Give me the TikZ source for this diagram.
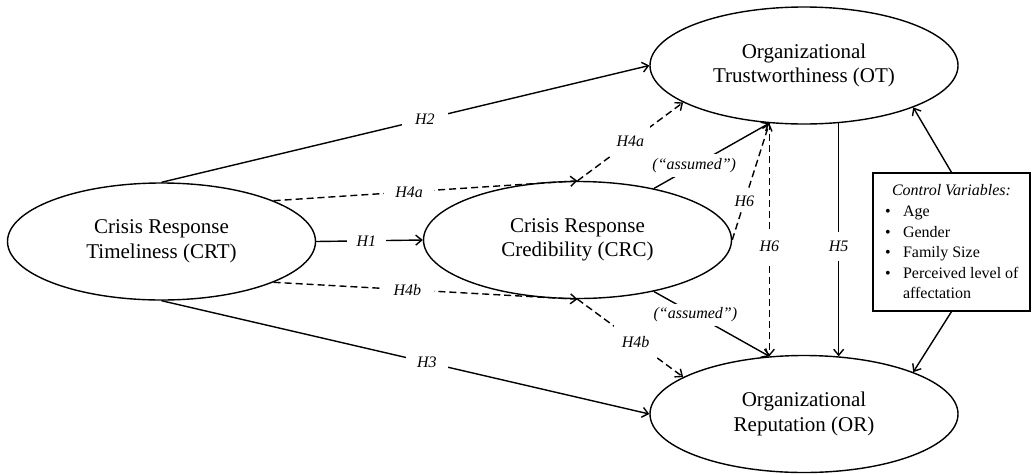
\documentclass[tikz,border=0pt]{standalone}
\usepackage{fontspec}
\setmainfont{Liberation Serif}
\usetikzlibrary{arrows.meta,shapes.geometric}
\begin{document}
\begin{tikzpicture}[x=1pt,y=-1pt,
  construct/.style={ellipse,draw,line width=1.4pt,inner sep=0pt,minimum width=308pt,minimum height=117pt,align=center,font=\fontsize{21}{24.5}\selectfont},
  conn/.style={line width=1.4pt,-{Straight Barb[length=6pt,width=10pt]}},
  dsh/.style={conn,dash pattern=on 7pt off 4pt},
  lbl/.style={fill=white,font=\fontsize{16}{18}\selectfont\itshape,inner xsep=11pt,inner ysep=2pt},
  lblv/.style={lbl,inner xsep=2pt,inner ysep=9pt},
  lblq/.style={lbl,inner xsep=2pt,inner ysep=4pt},
  cvbox/.style={draw,line width=1.2pt,inner sep=0pt,minimum width=157pt,minimum height=138pt}]
\useasboundingbox (0,0) rectangle (1032,474);

\node[construct] (crt) at (161.5,241.5) {Crisis Response\\Timeliness (CRT)};
\node[construct] (crc) at (577.5,240) {Crisis Response\\Credibility (CRC)};
\node[construct] (ot) at (804,65.5) {Organizational\\Trustworthiness (OT)};
\node[construct] (or) at (804,414) {Organizational\\Reputation (OR)};

\node[cvbox] (cv) at (951.5,242) {\parbox{157pt}{\fontsize{16}{20.6}\selectfont\centering\textit{Control Variables:}\par\raggedright
\hspace*{15pt}\makebox[0pt]{\textbullet}\hspace{15pt}Age\par
\hspace*{15pt}\makebox[0pt]{\textbullet}\hspace{15pt}Gender\par
\hspace*{15pt}\makebox[0pt]{\textbullet}\hspace{15pt}Family Size\par
\hspace*{15pt}\makebox[0pt]{\textbullet}\hspace{15pt}Perceived level of\par
\hspace*{30pt}affectation}};

% main paths
\draw[conn] (crt.north) -- node[lbl,pos=0.54,inner xsep=13pt]{H2} (ot.west);
\draw[conn] (crt.south) -- node[lbl,pos=0.544]{H3} (or.west);
\draw[conn] (crt.east) -- node[lbl,pos=0.47,inner xsep=10pt]{H1} (crc.west);

% H4a
\draw[dsh] (crt.20.6) -- node[lbl,pos=0.446]{H4a} (crc.north);
\draw[dsh] (crc.north) -- node[lbl,pos=0.5,inner xsep=6pt,inner ysep=10pt]{H4a} (ot.197);

% H4b
\draw[dsh] (crt.-20.6) -- node[lbl,pos=0.44,inner xsep=13pt]{H4b} (crc.south);
\draw[dsh] (crc.south) -- node[lbl,pos=0.55,inner xsep=8pt,inner ysep=12pt]{H4b} (or.163.6);

% assumed
\draw[conn] (crc.34.2) -- node[lblq,pos=0.35]{(“assumed”)} (ot.239);
\draw[conn] (crc.-34.7) -- node[lblq,pos=0.36]{(“assumed”)} (or.121);

% H6
\draw[dsh] (crc.east) -- node[lbl,pos=0.33,inner xsep=2pt,inner ysep=5pt]{H6} (ot.239);
\draw[dsh] (ot.239) -- node[lblv,pos=0.53,inner ysep=10pt]{H6} (or.121);

% H5
\draw[conn] (ot.301) -- node[lblv,pos=0.53]{H5} (or.59);

% control variables
\draw[conn] (cv.north) -- (ot.-21.8);
\draw[conn] (cv.south) -- (or.21.1);
\end{tikzpicture}
\end{document}
